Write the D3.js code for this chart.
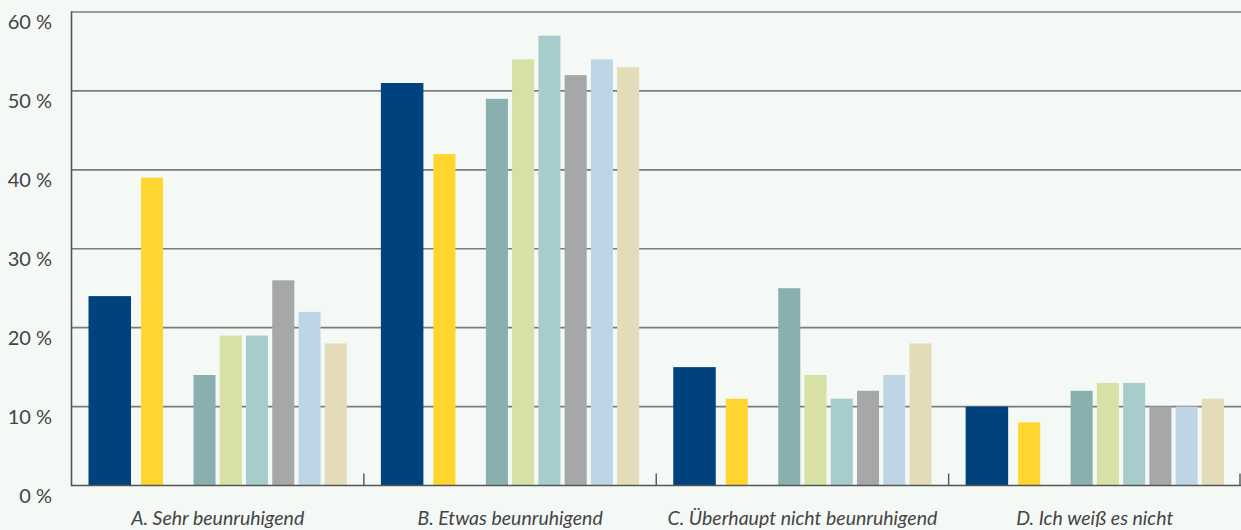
<!DOCTYPE html>
<html><head><meta charset="utf-8">
<script src="https://cdn.jsdelivr.net/npm/d3@7"></script>
<style>
html,body{margin:0;padding:0;background:#f4f9f6;}
svg{display:block;}
text{font-family:Lato,"Open Sans",sans-serif;}
</style></head>
<body><svg id="c" width="1241" height="530"></svg>
<script>
const categories = ["A. Sehr beunruhigend","B. Etwas beunruhigend","C. Überhaupt nicht beunruhigend","D. Ich weiß es nicht"];
const seriesNames = ["s1","s2","s3","s4","s5","s6","s7","s8"];
const seriesColors = ["#00427e","#ffd530","#89afae","#d7e0a5","#a7cccc","#a6a7a9","#bed5e5","#e4dbb9"];
const values = [
  [24,39,14,19,19,26,22,18],
  [51,42,49,54,57,52,54,53],
  [15,11,25,14,11,12,14,18],
  [10,8,12,13,13,10,10,11]
];
const yTicks = [0,10,20,30,40,50,60];
const yTickLabels = ["0 %","10 %","20 %","30 %","40 %","50 %","60 %"];

(function(){
const svg = d3.select("#c");
const mLeft = 71.5, mRight = 1241, mTop = 12, mBottom = 485.5;
const y = d3.scaleLinear().domain([0,60]).range([mBottom, mTop]);
const x0 = d3.scaleBand().domain(categories).range([mLeft, mRight]).padding(0);
const gw = x0.bandwidth();
const slotLeft = [0,2,4,5,6,7,8,9];
const slotWidth = [1.62,0.84,0.84,0.84,0.84,0.84,0.84,0.84];
const xs = d3.scaleLinear().domain([0,1]).range([17, 17+26.25]);
const xw = d3.scaleLinear().domain([0,1]).range([0,26.25]);

svg.append("g").selectAll("line").data(yTicks.filter(d=>d>0)).join("line")
  .attr("x1",mLeft).attr("x2",mRight)
  .attr("y1",d=>y(d)).attr("y2",d=>y(d))
  .attr("stroke","#7a7c7b").attr("stroke-width",1.6);

const gs = svg.append("g").selectAll("g").data(categories).join("g")
  .attr("transform",d=>`translate(${x0(d)},0)`);
gs.selectAll("rect").data((d,i)=>values[i].map((v,j)=>({v,j}))).join("rect")
  .attr("x",d=>xs(slotLeft[d.j]))
  .attr("width",d=>xw(slotWidth[d.j]))
  .attr("y",d=>y(d.v))
  .attr("height",d=>y(0)-y(d.v))
  .attr("fill",d=>seriesColors[d.j]);

svg.append("line").attr("x1",mLeft).attr("x2",mRight).attr("y1",mBottom).attr("y2",mBottom)
  .attr("stroke","#555").attr("stroke-width",1.6);
svg.append("line").attr("x1",mLeft).attr("x2",mLeft).attr("y1",mTop-0.8).attr("y2",mBottom+0.8)
  .attr("stroke","#555").attr("stroke-width",1.6);
svg.append("g").selectAll("line").data(categories.slice(1).concat(["end"])).join("line")
  .attr("x1",d=>d==="end"?mRight-1:x0(d)).attr("x2",d=>d==="end"?mRight-1:x0(d))
  .attr("y1",mBottom).attr("y2",mBottom-12)
  .attr("stroke","#555").attr("stroke-width",1.4);

svg.append("g").selectAll("text").data(yTicks).join("text")
  .attr("x",52).attr("y",d=>y(d)+17)
  .attr("text-anchor","end").attr("font-size",20).attr("fill","#444")
  .text((d,i)=>yTickLabels[i]);

svg.append("g").selectAll("text").data(categories).join("text")
  .attr("x",d=>x0(d)+gw/2).attr("y",525)
  .attr("text-anchor","middle").attr("font-size",19.5).attr("font-style","italic").attr("fill","#444")
  .text(d=>d);
})();
</script></body></html>
